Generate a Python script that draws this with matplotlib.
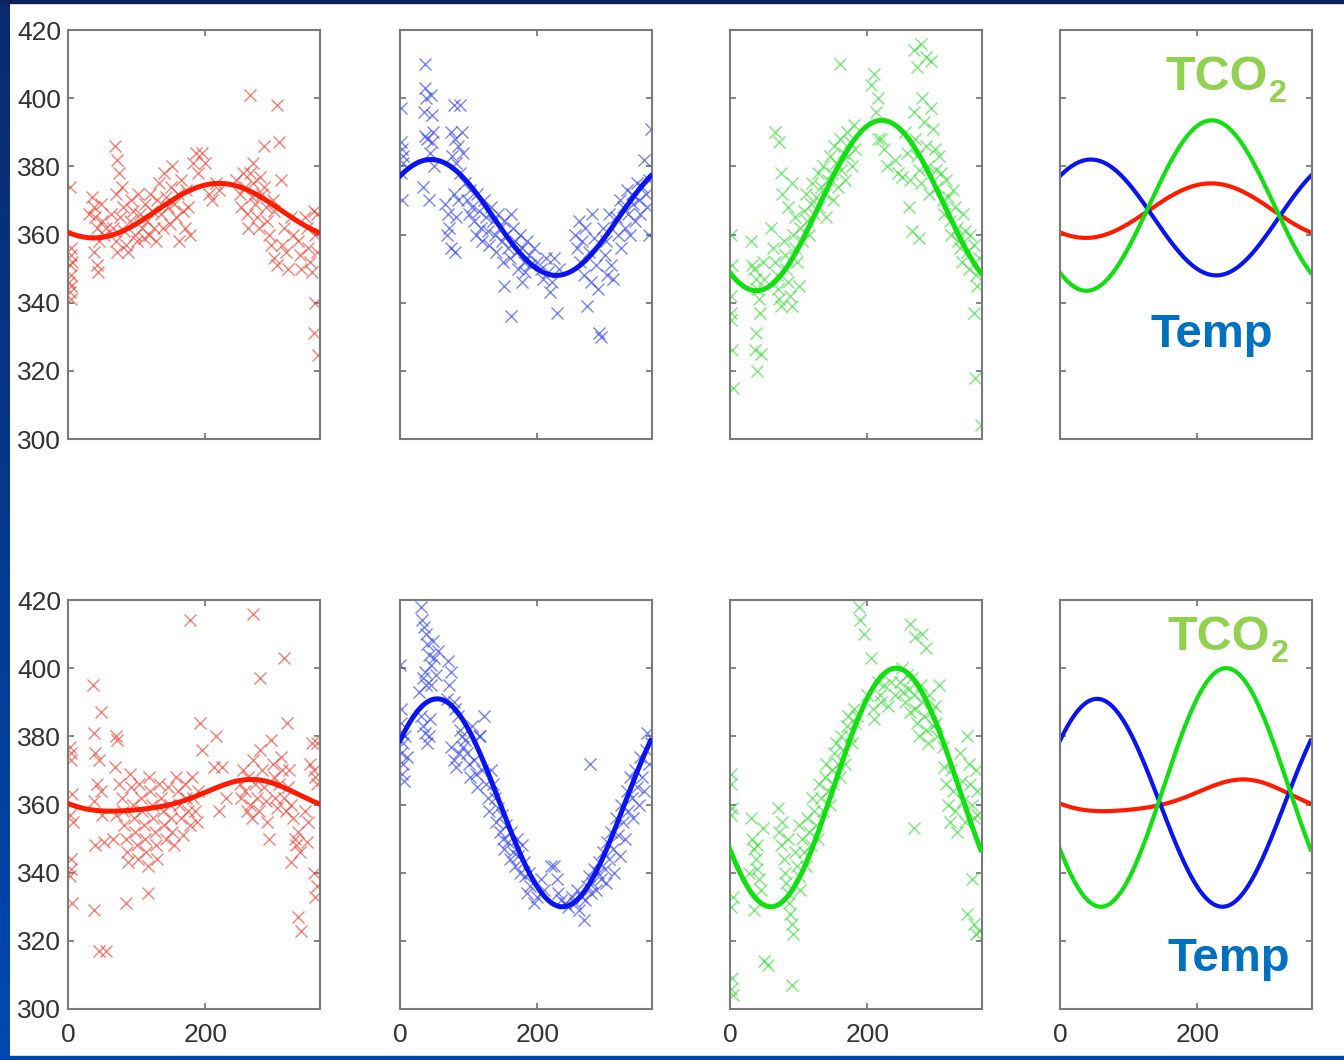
import numpy as np
import matplotlib
matplotlib.use('Agg')
import matplotlib.pyplot as plt

plt.rcParams['font.family'] = ['Liberation Sans', 'DejaVu Sans']

#1. data (day of year, value)
# row 1
red1_day = [3, 4, 3, 5, 4, 3, 5, 2, 4, 6,
            35, 38, 40, 42, 45, 38, 42, 44, 48, 50, 52, 55, 30,
            68, 72, 75, 70, 78,
            62, 65, 70, 72, 76, 80, 82, 85, 88, 90, 92, 95, 98, 100, 102, 105, 108, 110, 112, 115, 118, 120, 122, 125, 128, 130,
            132, 135, 138, 140, 142, 145, 148, 150, 152, 155, 158, 160, 162, 165, 168, 170, 172, 175, 178,
            182, 186, 190, 195, 200, 205, 210, 215, 220,
            245, 250, 252, 255, 258, 260, 262, 265, 268, 270, 272, 275, 278, 280, 282, 285, 288, 290, 292, 295, 298, 265, 285, 300, 270,
            305, 308, 310, 300, 305, 312, 315, 318, 320, 325, 328,
            335, 338, 340, 345, 348, 350, 352, 355, 358, 360, 362, 360, 358, 364, 363]
red1_val = [374, 354, 351, 348, 345, 343, 341, 346, 356, 352,
            371, 368, 365, 362, 358, 355, 351, 349, 369, 364, 360, 362, 366,
            386, 382, 378, 372, 374,
            366, 362, 358, 355, 365, 368, 361, 357, 355, 364, 370, 367, 360, 358, 372, 366, 362, 359, 369, 364, 360, 372, 367, 362, 358, 370,
            375, 366, 362, 378, 371, 368, 363, 374, 380, 369, 365, 372, 358, 376, 367, 362, 373, 368, 360,
            381, 384, 378, 384, 381, 372, 370, 375, 373,
            376, 372, 368, 378, 374, 366, 362, 378, 371, 375, 369, 365, 362, 377, 372, 374, 368, 364, 360, 357, 370, 401, 386, 367, 381,
            398, 387, 376, 353, 351, 357, 362, 355, 350, 365, 360,
            358, 354, 350, 365, 362, 356, 352, 349, 367, 360, 355, 340, 331, 324.5, 366]

blue1_day = [1, 2, 3, 4, 2, 3, 5,
             36, 36, 38, 35, 37, 40, 34, 42, 45, 46, 48, 47, 43, 50,
             78, 88, 75, 80, 85, 90, 92, 82, 88, 76,
             65, 70, 72, 68, 75, 80, 82, 78, 85,
             95, 98, 100, 102, 105, 108, 110, 112, 115, 118, 120, 122, 125, 128, 130, 132, 135, 138, 140, 142, 145, 148, 150,
             152, 155, 158, 160, 162, 165, 168, 170, 172, 175, 178, 180, 182, 185, 188, 190,
             151, 161, 177, 195, 200, 205, 208, 212, 215, 219, 222, 229, 225, 232,
             255, 258, 260, 262, 265, 268, 270, 272, 275, 278, 280, 282, 285, 288, 290, 292, 295, 298, 300, 302, 305, 308, 310,
             315, 318, 320, 322, 325, 328, 330, 332, 335, 338, 340, 342, 345, 348, 350, 352, 355, 358, 360, 362, 365, 363]
blue1_val = [397, 387, 385, 381, 378, 370, 383,
             410, 403, 400, 396, 389, 388, 374, 370, 401, 395, 390, 387, 384, 380,
             398, 398, 390, 388, 386, 390, 384, 381, 378, 383,
             369, 366, 362, 360, 356, 355, 365, 372, 370,
             375, 370, 366, 373, 368, 364, 360, 372, 367, 362, 358, 370, 365, 361, 357, 368, 364, 360, 355, 366, 362, 358, 352,
             364, 360, 356, 353, 366, 362, 358, 355, 350, 360, 356, 352, 349, 358, 354, 351,
             345, 336, 346, 356, 352, 350, 347, 353, 349, 343, 346, 337, 353, 350,
             360, 356, 364, 352, 358, 348, 362, 339, 355, 346, 366, 359, 351, 344, 331, 330, 362, 354, 358, 348, 366, 351, 347,
             365, 360, 370, 356, 368, 362, 373, 366, 360, 372, 369, 364, 375, 370, 366, 374, 382, 372, 368, 376, 391, 360]

green1_day = [2, 3, 1, 2, 3, 4, 1,
              30, 32, 35, 38, 40, 42, 44, 38, 36, 45, 40, 48, 50,
              66, 72, 75, 60, 62, 65, 68, 70, 72, 75, 78, 80, 82, 85, 88, 90, 92, 95, 98, 100, 76, 85, 90, 95,
              102, 105, 108, 110, 112, 115, 118, 120, 122, 125, 128, 130, 132, 135, 138, 140, 142, 145, 148, 150,
              152, 155, 158, 160, 160, 162, 165, 168, 170, 172, 175, 178, 180, 182,
              205, 210, 215, 212, 220, 225, 228, 215,
              240, 245, 250, 255, 258, 260, 262, 265, 268, 270, 272, 275, 278, 280, 282, 285, 288, 290, 292, 295, 298, 300, 302,
              268, 272, 278, 285, 292, 275,
              305, 308, 310, 312, 315, 318, 320, 322, 325, 328, 330, 332, 335, 338, 340, 342, 345, 348, 350, 355, 358, 360, 362,
              355, 357, 365]
green1_val = [360, 351, 337, 335, 326, 315, 342,
              358, 351, 350, 347, 344, 341, 337, 331, 326, 325, 320, 352, 347,
              390, 387, 378, 362, 356, 352, 348, 344, 341, 339, 358, 354, 350, 346, 342, 339, 360, 356, 352, 345, 372, 368, 375, 365,
              362, 358, 367, 372, 364, 360, 369, 375, 366, 371, 378, 368, 374, 380, 372, 365, 376, 383, 378, 370,
              386, 381, 374, 410, 388, 379, 384, 376, 390, 383, 387, 380, 392, 385,
              404, 407, 400, 396, 388, 385, 380, 388,
              382, 378, 377, 390, 384, 368, 376, 361, 396, 388, 383, 379, 375, 400, 393, 386, 380, 372, 397, 391, 385, 379, 374,
              414, 409, 416, 412, 411, 359,
              383, 378, 370, 366, 376, 371, 364, 360, 373, 368, 362, 358, 356, 352, 366, 361, 355, 350, 360, 357, 348, 345, 353,
              337, 318, 304]

# row 2
red2_day = [3, 5, 4, 6, 3, 7, 4, 5, 3, 6,
            36, 48, 38, 40, 45, 42, 48, 38, 50, 40, 52, 38, 45, 55,
            70, 72, 68, 70, 65,
            75, 78, 80, 82, 84, 86, 88, 90, 92, 94, 96, 98, 100, 102, 104, 106, 108, 110, 112, 114, 116, 118, 120, 122, 124, 126, 128, 130, 85, 117,
            132, 135, 138, 140, 142, 145, 148, 150, 152, 155, 158, 160, 162, 165, 168, 170, 172, 175, 178, 180, 182, 185, 188, 190,
            178, 192, 195, 216, 212, 225, 220, 230,
            250, 252, 255, 258, 260, 262, 265, 268, 270, 272, 275, 278, 280, 282, 285, 288, 290, 292, 295, 298, 300, 302, 305, 308, 310, 312, 315, 318, 320, 322, 325,
            270, 280, 314, 319,
            328, 330, 332, 335, 338, 325, 335, 340, 345, 350,
            352, 355, 358, 360, 362, 363, 358, 360, 362, 348]
red2_val = [377, 375, 373, 363, 357, 355, 344, 341, 339, 331,
            395, 387, 381, 375, 373, 366, 364, 361, 357, 348, 349, 329, 317, 317,
            380, 379, 371, 357, 350,
            366, 362, 358, 354, 350, 346, 343, 369, 365, 360, 356, 352, 348, 344, 366, 362, 358, 354, 350, 346, 342, 368, 364, 360, 356, 352, 348, 344, 331, 334,
            366, 362, 358, 354, 350, 365, 360, 356, 352, 348, 368, 364, 360, 356, 351, 366, 362, 358, 354, 368, 362, 358, 355, 364,
            414, 384, 376, 380, 371, 371, 358, 362,
            366, 362, 370, 364, 358, 368, 360, 356, 373, 366, 362, 358, 376, 370, 365, 361, 355, 350, 379, 372, 368, 362, 359, 366, 374, 370, 362, 358, 365, 370, 360,
            416, 397, 403, 384,
            356, 350, 348, 352, 346, 343, 327, 323, 358, 355,
            372, 378, 370, 368, 378, 366, 340, 333, 336, 349]

blue2_day = [0, 2, 1, 3, 4, 2, 5, 3, 6, 8, 10,
             30, 32, 35, 38, 40, 42, 45, 48, 50, 52, 55, 36, 38, 33, 45, 28,
             30, 33, 36, 40, 44, 42,
             70, 75, 72, 68, 78, 80, 85, 88, 90, 92, 75, 78, 82, 86,
             95, 98, 100, 102, 105, 108, 110, 112, 115, 117, 120, 122, 125, 128, 130, 132, 135, 138, 140, 142, 145, 148, 150,
             152, 155, 158, 160, 162, 165, 168, 170, 172, 175, 178, 180, 182, 185, 188, 190, 195, 200, 205, 210,
             220, 224, 228, 230, 235, 240, 245, 250, 255, 258, 260, 265, 268, 270, 272, 275, 277, 278, 280, 282, 285, 288, 290,
             292, 295, 298, 300, 302, 305, 308, 310, 312, 315, 318, 320, 322, 325, 328, 330, 332, 335, 338, 340, 342, 345, 348,
             350, 352, 355, 358, 360, 362, 365]
blue2_val = [401, 388, 384, 381, 378, 375, 372, 369, 367, 380, 374,
             418, 414, 412, 410, 407, 404, 401, 408, 403, 398, 405, 399, 395, 397, 395, 393,
             386, 383, 381, 378, 385, 380,
             402, 399, 395, 391, 390, 388, 386, 382, 380, 377, 377, 373, 371, 375,
             379, 375, 372, 368, 383, 373, 369, 365, 380, 380, 370, 386, 366, 362, 358, 370, 366, 362, 355, 359, 352, 357, 350,
             347, 354, 349, 344, 352, 346, 342, 350, 345, 340, 348, 343, 339, 334, 340, 336, 331, 333, 338, 335,
             342, 342, 338, 334, 332, 331, 330, 333, 331, 335, 329, 333, 326, 332, 336, 339, 372, 334, 337, 341, 335, 340, 343,
             338, 346, 341, 337, 349, 344, 352, 347, 340, 356, 351, 345, 360, 355, 350, 364, 358, 368, 362, 356, 370, 365, 360,
             374, 368, 364, 376, 381, 372, 378]

green2_day = [1, 2, 3, 1, 4, 2, 3, 1, 4,
              30, 32, 35, 38, 40, 42, 45, 48, 35, 50, 55, 28, 40,
              70, 72, 75, 78, 80, 82, 84, 86, 88, 90, 92, 95, 98, 100, 102, 90, 76, 85, 100,
              105, 108, 110, 112, 115, 118, 120, 122, 125, 128, 130, 132, 135, 138, 140, 142, 145, 148, 150,
              152, 155, 158, 160, 162, 165, 168, 170, 172, 175, 178, 180, 182, 185,
              188, 190, 195, 205, 200, 208, 210, 215, 218, 220, 225, 230, 235, 240,
              248, 250, 252, 255, 258, 260, 262, 265, 268, 270, 272, 275, 278, 280, 282, 285, 288, 290, 292, 295, 298, 300, 302, 305,
              262, 270, 280, 285, 268,
              310, 312, 315, 318, 320, 322, 325, 328, 330, 335, 338, 340, 342, 345, 348, 350, 352, 355, 358, 360,
              352, 345, 358, 362, 355, 360]
green2_val = [369, 366, 359, 357, 333, 330, 309, 306, 304,
              356, 350, 347, 344, 341, 338, 335, 353, 329, 314, 313, 340, 348,
              359, 352, 348, 344, 340, 337, 334, 331, 328, 325, 322, 346, 342, 339, 335, 307, 355, 350, 354,
              350, 346, 342, 356, 352, 348, 362, 358, 354, 350, 366, 362, 358, 368, 372, 364, 360, 370, 366,
              375, 378, 372, 368, 380, 376, 372, 383, 386, 380, 378, 388, 384, 386,
              418, 414, 410, 403, 392, 388, 385, 396, 392, 390, 395, 389, 396, 392,
              396, 400, 393, 390, 398, 394, 387, 397, 392, 388, 384, 380, 395, 390, 386, 382, 378, 392, 387, 383, 389, 384, 380, 395,
              413, 409, 410, 406, 353,
              377, 371, 366, 360, 355, 370, 364, 358, 352, 375, 367, 361, 355, 380, 372, 366, 360, 356, 370, 364,
              338, 328, 322, 323, 325, 357]

# harmonic fit: mean, amp1, peak day1, amp2, peak day2
red1_fit = [367, 8, 220, 0, 0]
blue1_fit = [365, 17, 45, 0, 0]
green1_fit = [368.5, 25, 221, 0, 0]
red2_fit = [362, 4.6, 262, 0.8, 91]
blue2_fit = [360.5, 30.5, 54, 0, 0]
green2_fit = [365, 35, 242, 0, 0]

rows = [
    [(red1_day, red1_val, red1_fit), (blue1_day, blue1_val, blue1_fit), (green1_day, green1_val, green1_fit)],
    [(red2_day, red2_val, red2_fit), (blue2_day, blue2_val, blue2_fit), (green2_day, green2_val, green2_fit)],
]
colors = ['#ff1a00', '#0a14f0', '#10e010']
mark_colors = ['#f03a2a', '#3040f0', '#30dd30']

# label positions in the last column (axes fraction)
tco_pos = [(0.418, 0.853), (0.426, 0.877)]
temp_pos = [(0.359, 0.225), (0.426, 0.093)]


def fit_curve(t, p):
    w = 2 * np.pi / 365.0
    return p[0] + p[1] * np.cos(w * (t - p[2])) + p[3] * np.cos(2 * w * (t - p[4]))


#2. figure
fig = plt.figure(figsize=(13.44, 10.6), dpi=100)

# slide frame (blue strip on the left, thin lines top and bottom)
strip = fig.add_axes([0, 0, 10 / 1344, 1])
grad = np.linspace(0, 1, 256).reshape(-1, 1)
strip.imshow(grad, aspect='auto', cmap=matplotlib.colors.LinearSegmentedColormap.from_list('s', ['#0a2a6e', '#0048b0']),
             extent=[0, 1, 0, 1], origin='upper')
strip.axis('off')
fig.patches.append(plt.Rectangle((0, 1 - 3 / 1060), 1, 3 / 1060, transform=fig.transFigure, color='#0b2358'))
fig.patches.append(plt.Rectangle((0, 0), 1, 4 / 1060, transform=fig.transFigure, color='#0046b0'))

lefts = [68, 400, 730, 1060]
tops = [30, 600]
t = np.linspace(0, 365, 400)

for r in range(2):
    for c in range(4):
        ax = fig.add_axes([lefts[c] / 1344, 1 - (tops[r] + 409) / 1060, 252 / 1344, 409 / 1060])
        if c < 3:
            d, v, p = rows[r][c]
            ax.scatter(d, v, marker='x', s=75, linewidths=1.0, color=mark_colors[c], alpha=0.65, zorder=2)
            ax.plot(t, fit_curve(t, p), color=colors[c], lw=3.6, zorder=3)
        else:
            for k in range(3):
                ax.plot(t, fit_curve(t, rows[r][k][2]), color=colors[k], lw=3.0)
            tco = ax.text(tco_pos[r][0], tco_pos[r][1], 'TCO', transform=ax.transAxes, color='#92d050',
                          fontsize=35, fontweight='bold', va='baseline', ha='left')
            # subscript 2, hung off the lower right corner of "TCO"
            ax.annotate('2', xy=(1, 0), xycoords=tco, xytext=(0.5, -1.5), textcoords='offset points',
                        color='#92d050', fontsize=23, fontweight='bold', va='baseline', ha='left')
            ax.text(temp_pos[r][0], temp_pos[r][1], 'Temp', transform=ax.transAxes, color='#0070c0',
                    fontsize=34, fontweight='bold', va='baseline', ha='left')

        ax.set_xlim(0, 367)
        ax.set_ylim(300, 420)
        ax.set_xticks([0, 200])
        ax.set_yticks([300, 320, 340, 360, 380, 400, 420])
        ax.tick_params(direction='in', length=4, width=1.2, color='#707070', top=True, right=True,
                       labelsize=19, labelcolor='#333333')
        ax.tick_params(axis='x', pad=10)
        ax.tick_params(axis='y', pad=5)
        if c > 0:
            ax.set_yticklabels([])
        if r == 0:
            ax.set_xticklabels([])
        for s in ax.spines.values():
            s.set_color('#7a7a7a')
            s.set_linewidth(1.5)

plt.savefig('out.png', dpi=100)
